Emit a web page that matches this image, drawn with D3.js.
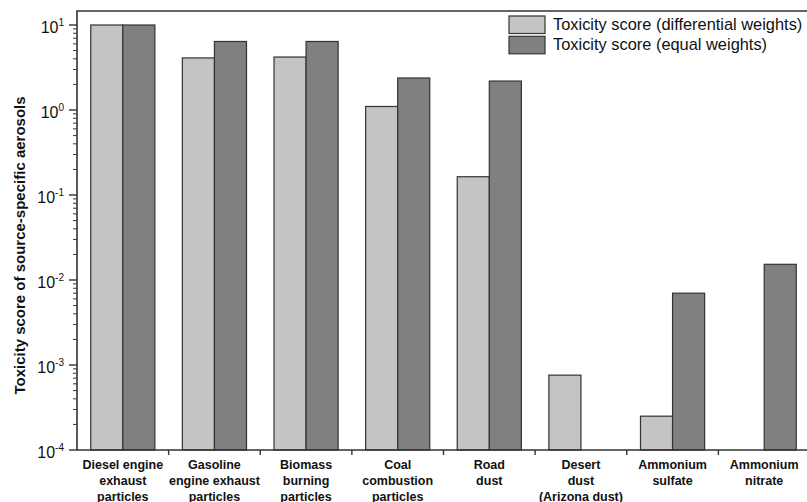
<!DOCTYPE html>
<html>
<head>
<meta charset="utf-8">
<script src="https://cdn.jsdelivr.net/npm/d3@7/dist/d3.min.js"></script>
<style>
  body { margin: 0; background: #fff; }
  svg { font-family: "Liberation Sans", Arial, sans-serif; display: block; }
</style>
</head>
<body>
<div id="container"></div>
<script>
const categories = [
  ["Diesel engine", "exhaust", "particles"],
  ["Gasoline", "engine exhaust", "particles"],
  ["Biomass", "burning", "particles"],
  ["Coal", "combustion", "particles"],
  ["Road", "dust"],
  ["Desert", "dust", "(Arizona dust)"],
  ["Ammonium", "sulfate"],
  ["Ammonium", "nitrate"]
];
const seriesNames = ["Toxicity score (differential weights)", "Toxicity score (equal weights)"];
const differential = [10, 4.1, 4.2, 1.1, 0.164, 7.6e-4, 2.5e-4, null];
const equal = [10, 6.4, 6.4, 2.38, 2.19, null, 7.0e-3, 0.0153];
const yTicks = [1e-4, 1e-3, 1e-2, 1e-1, 1, 10];
const yTickExp = ["-4", "-3", "-2", "-1", "0", "1"];

const w = 807, h = 502;
const plotLeft = 77, plotTop = 11, plotBottom = 450, plotRight = 810;
const colors = ["#c4c4c4", "#808080"];
const stroke = "#333";

const svg = d3.select("#container").append("svg")
  .attr("width", w).attr("height", h);

const x = d3.scaleBand()
  .domain(d3.range(categories.length))
  .range([plotLeft, plotRight])
  .paddingInner(0.3)
  .paddingOuter(0.15);

const xSub = d3.scaleBand()
  .domain([0, 1])
  .range([0, x.bandwidth()]);

const y = d3.scaleLog()
  .domain([1e-4, 10])
  .range([plotBottom, 25]);

// bars
const series = [differential, equal];
series.forEach((vals, s) => {
  svg.append("g")
    .selectAll("rect")
    .data(vals.map((v, i) => ({ v, i })).filter(d => d.v != null))
    .enter()
    .append("rect")
    .attr("x", d => x(d.i) + xSub(s))
    .attr("y", d => y(d.v))
    .attr("width", xSub.bandwidth())
    .attr("height", d => plotBottom - y(d.v))
    .attr("fill", colors[s])
    .attr("stroke", stroke)
    .attr("stroke-width", 1.2);
});

// frame
svg.append("path")
  .attr("d", `M${plotRight},${plotTop}H${plotLeft}V${plotBottom}H${plotRight}`)
  .attr("fill", "none")
  .attr("stroke", stroke)
  .attr("stroke-width", 1.6);

// y axis ticks
const minor = [];
for (let e = -4; e < 1; e++) for (let k = 2; k <= 9; k++) minor.push(k * Math.pow(10, e));
svg.append("g").selectAll("line").data(minor).enter().append("line")
  .attr("x1", plotLeft - 4).attr("x2", plotLeft)
  .attr("y1", d => y(d)).attr("y2", d => y(d))
  .attr("stroke", stroke).attr("stroke-width", 1);
svg.append("g").selectAll("line").data(yTicks).enter().append("line")
  .attr("x1", plotLeft - 8).attr("x2", plotLeft)
  .attr("y1", d => y(d)).attr("y2", d => y(d))
  .attr("stroke", stroke).attr("stroke-width", 1.4);

const yl = svg.append("g").selectAll("text").data(yTicks).enter().append("text")
  .attr("x", 64).attr("y", d => y(d) + 8)
  .attr("text-anchor", "end")
  .style("font-size", "16px")
  .attr("fill", "#111");
yl.append("tspan").text("10");
yl.append("tspan").attr("dy", -7.5).style("font-size", "10px").text((d, i) => yTickExp[i]);

// x axis category separators
svg.append("g").selectAll("line").data(d3.range(1, categories.length)).enter().append("line")
  .attr("x1", i => x(i) - x.step() * x.paddingInner() / 2)
  .attr("x2", i => x(i) - x.step() * x.paddingInner() / 2)
  .attr("y1", plotBottom).attr("y2", plotBottom + 5)
  .attr("stroke", stroke).attr("stroke-width", 1.4);

// category labels
const cl = svg.append("g").selectAll("text").data(categories).enter().append("text")
  .attr("text-anchor", "middle")
  .attr("font-weight", "bold")
  .style("font-size", "12.5px")
  .attr("fill", "#111");
cl.each(function (lines, i) {
  const t = d3.select(this);
  lines.forEach((ln, j) => {
    t.append("tspan")
      .attr("x", x(i) + x.bandwidth() / 2)
      .attr("y", 468.5 + j * 16)
      .text(ln);
  });
});

// y title
svg.append("text")
  .attr("transform", `translate(25,${(plotTop + plotBottom) / 2 + 15}) rotate(-90)`)
  .attr("text-anchor", "middle")
  .attr("font-weight", "bold")
  .style("font-size", "15px")
  .attr("fill", "#111")
  .text("Toxicity score of source-specific aerosols");

// legend
const lg = svg.append("g").attr("transform", "translate(509,16)");
seriesNames.forEach((name, i) => {
  lg.append("rect")
    .attr("x", 0).attr("y", i * 20.3)
    .attr("width", 36).attr("height", 17.5)
    .attr("fill", colors[i])
    .attr("stroke", stroke)
    .attr("stroke-width", 1.2);
  lg.append("text")
    .attr("x", 44).attr("y", i * 20.3 + 13.5)
    .style("font-size", "16.4px")
    .attr("fill", "#111")
    .text(name);
});
</script>
</body>
</html>
